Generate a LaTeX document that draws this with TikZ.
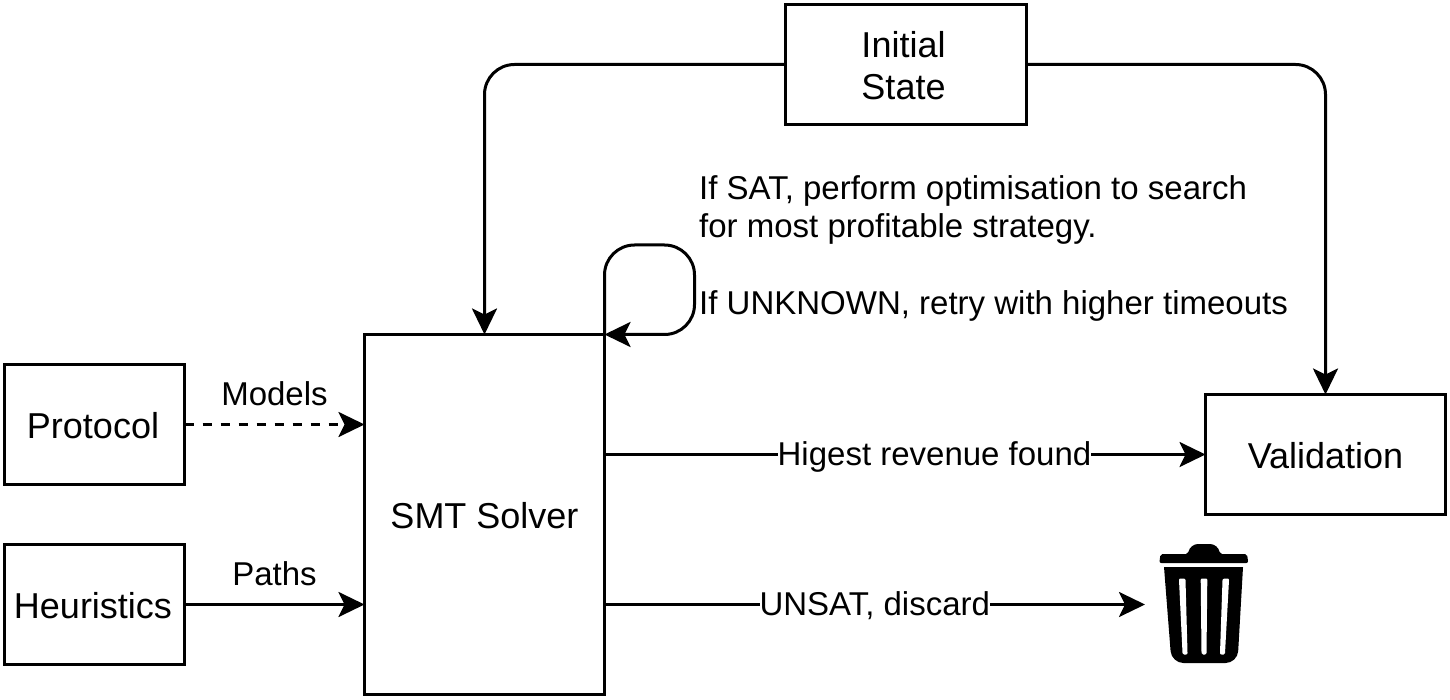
\documentclass[tikz,border=0pt]{standalone}
\usepackage{fontspec}
\setmainfont{Liberation Sans}
\usetikzlibrary{arrows.meta,calc}
\tikzset{
  every picture/.style={x=1pt,y=-1pt},
  bigtext/.style={font=\fontsize{36}{42}\selectfont},
  labeltext/.style={font=\fontsize{33}{38.5}\selectfont},
  boxnode/.style={draw=black,line width=3pt,fill=white,inner sep=0pt,outer sep=0pt,align=center,bigtext,text depth=0pt,text height=28pt},
  conn/.style={line width=3pt,draw=black,-{Stealth[length=26pt,width=25pt,inset=6pt]}},
  edgelabel/.style={fill=white,inner sep=0pt,labeltext,text height=28pt,text depth=7pt},
  plainlabel/.style={inner sep=0pt,labeltext,text height=26pt,text depth=7pt},
}
\begin{document}
\begin{tikzpicture}
\useasboundingbox (0,0) rectangle (1450,700);
\node[draw=black,line width=3pt,fill=white,inner sep=0pt,outer sep=0pt,minimum width=241pt,minimum height=120pt] (init) at (905.5,64.5) {};
\node[bigtext,inner sep=0pt,align=center] (inittext) at (903.5,66) {Initial\\State};
\node[boxnode,minimum width=240pt,minimum height=120pt] (val) at (1325.5,454.5) {Validation};
\node[boxnode,minimum width=180pt,minimum height=120pt] (proto) at (94.5,424.5) {Protocol\kern3pt};
\node[boxnode,minimum width=180pt,minimum height=120pt] (heur) at (94.5,604.5) {Heuristics\kern3pt};
\node[boxnode,minimum width=240pt,minimum height=360pt] (smt) at (484.5,514.5) {SMT Solver};
\coordinate (bin) at (1145,604.5);
\coordinate (loopa) at (604.5,245);
\coordinate (loopb) at (694.5,245);
\coordinate (loopc) at (694.5,334.5);

\draw[conn,rounded corners=30pt] (init.west) -| (smt.north);
\draw[conn,rounded corners=30pt] (init.east) -| (val.north);
\draw[conn,rounded corners=30pt] (smt.north east) -- (loopa) -- (loopb) -- (loopc) -- (smt.north east);
\draw[conn,dashed,dash pattern=on 9pt off 9pt] (proto) -- (proto -| smt.west);
\draw[conn] (heur) -- (heur -| smt.west);
\draw[conn] (smt.east |- val.west) -- (val.west) node[midway,edgelabel,xshift=29.5pt] (lrev) {Higest revenue found};
\draw[conn] (smt.east |- bin) -- (bin) node[midway,edgelabel] (ldis) {UNSAT, discard};
\node[plainlabel] (lmod) at (274.5,396) {Models};
\node[plainlabel] (lpath) at (274.5,576) {Paths};
\node[anchor=north west,inner sep=0pt,align=left,labeltext] (note) at (699,175) {If SAT, perform optimisation to search\\for most profitable strategy.\\[38.5pt]If UNKNOWN, retry with higher timeouts};

% bin icon
\fill[black,rounded corners=2pt] (1159.3,563) -- (1160.5,554) -- (1188,554) [rounded corners=8pt] -- (1190,544) -- (1218,544) [rounded corners=2pt] -- (1220,554) -- (1247,554) -- (1248.3,563) -- cycle;
\fill[black] (1164,567) -- (1243,567) [rounded corners=12pt] -- (1237.5,663) -- (1171.5,663) [sharp corners] -- cycle;
\begin{scope}[draw=white,fill=white,line join=round,line width=3pt]
\filldraw (1180.5,580) -- (1184,580) -- (1186,653) -- (1184,653) -- cycle;
\filldraw (1202.2,580) -- (1205.8,580) -- (1205,653) -- (1203,653) -- cycle;
\filldraw (1224,580) -- (1227.5,580) -- (1223.5,653) -- (1221.5,653) -- cycle;
\end{scope}
\end{tikzpicture}
\end{document}
